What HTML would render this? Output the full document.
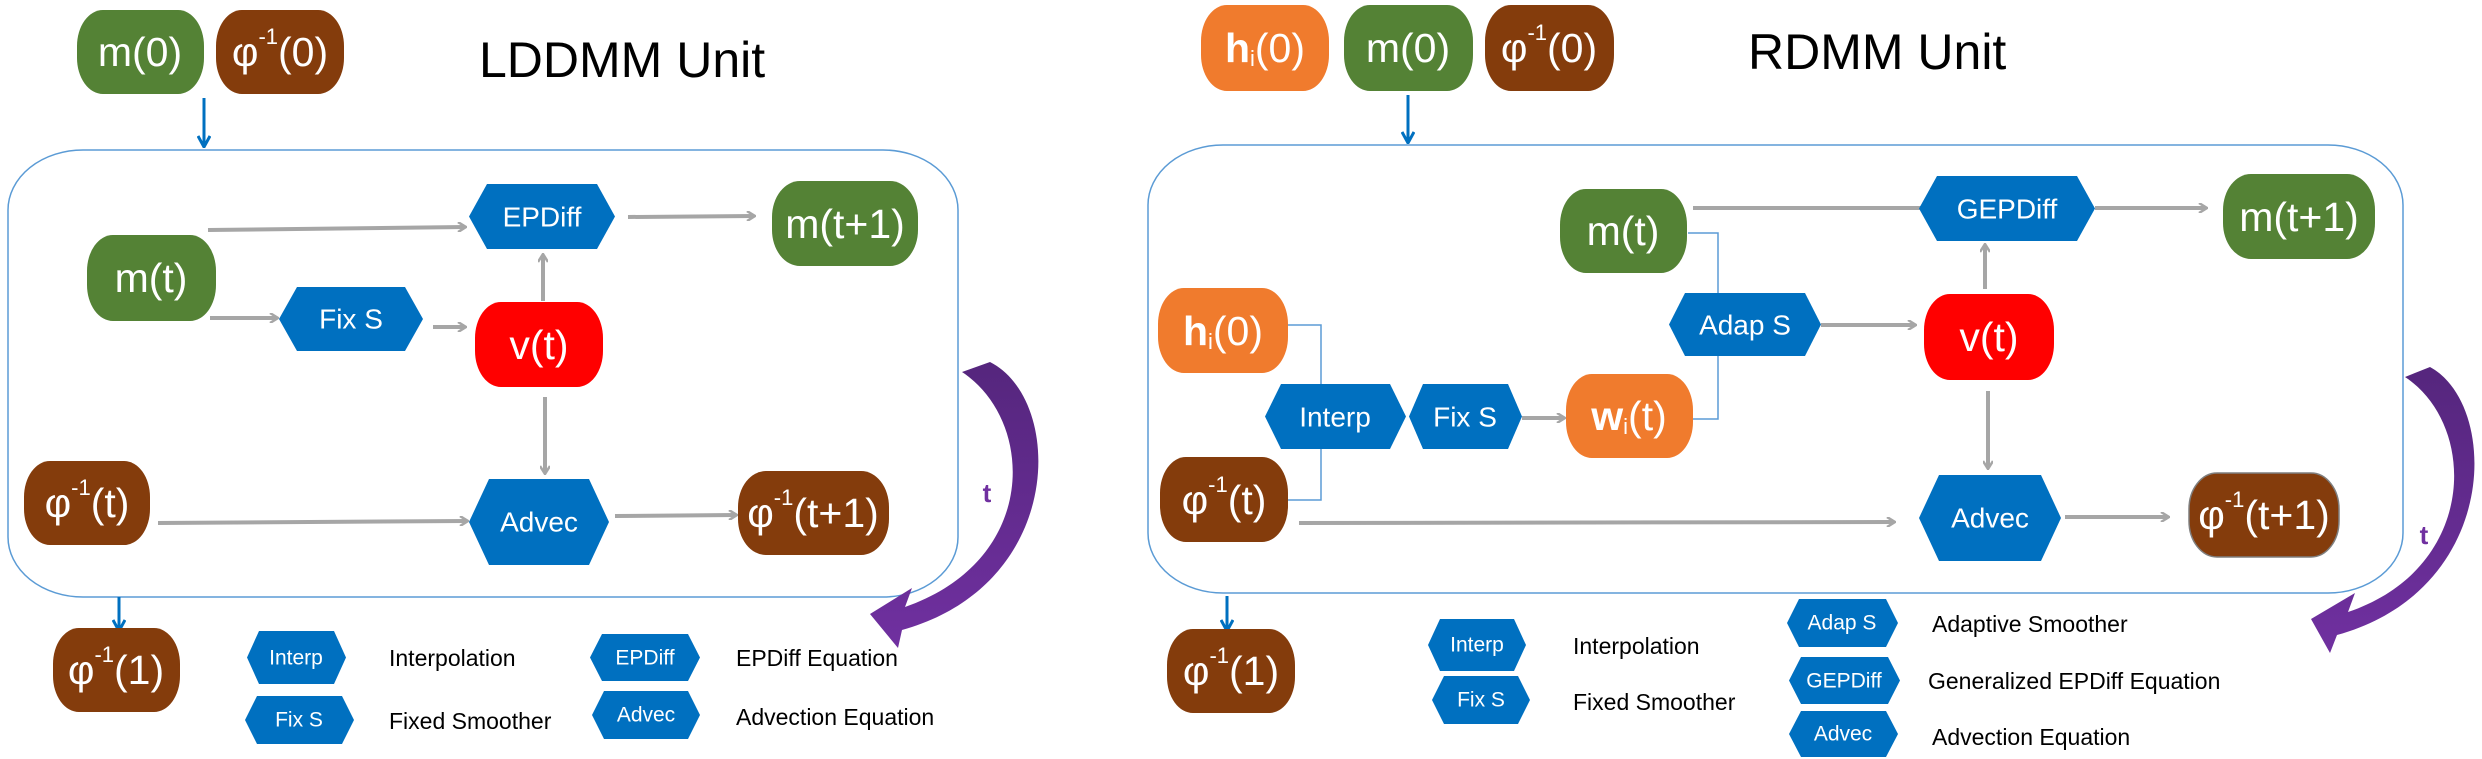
<!DOCTYPE html>
<html><head><meta charset="utf-8"><style>
html,body{margin:0;padding:0;background:#fff;}
svg{display:block;}
text{font-family:"Liberation Sans","DejaVu Sans",sans-serif;}
.n{fill:#fff;font-size:41px;text-anchor:middle;dominant-baseline:central;}
.h{fill:#fff;font-size:28px;text-anchor:middle;dominant-baseline:central;}
.hl{fill:#fff;font-size:21px;text-anchor:middle;dominant-baseline:central;}
.lg{fill:#000;font-size:23px;dominant-baseline:central;}
.g{stroke:#A6A6A6;stroke-width:4;fill:none;marker-end:url(#ga);}
.gn{stroke:#A6A6A6;stroke-width:4;fill:none;}
.b{stroke:#0070C0;stroke-width:3;fill:none;marker-end:url(#ba);}
.br{stroke:#5B9BD5;stroke-width:1.5;fill:none;}
</style></head><body>
<svg width="2482" height="759" viewBox="0 0 2482 759" xmlns="http://www.w3.org/2000/svg">
<defs>
<marker id="ga" markerWidth="10" markerHeight="10" refX="8" refY="5" orient="auto" markerUnits="userSpaceOnUse" viewBox="0 0 10 10"><path d="M1,0 L9,5 L1,10" stroke="#A6A6A6" stroke-width="2.5" fill="none"/></marker>
<marker id="ba" markerWidth="14" markerHeight="14" refX="12" refY="7" orient="auto" markerUnits="userSpaceOnUse" viewBox="0 0 14 14"><path d="M2,1 L13,7 L2,13" stroke="#0070C0" stroke-width="3" fill="none"/></marker>
<linearGradient id="pg" x1="0" y1="0" x2="0" y2="1"><stop offset="0" stop-color="#55267D"/><stop offset="1" stop-color="#7030A0"/></linearGradient>
</defs>

<!-- ============ LEFT: LDDMM ============ -->
<rect x="77" y="10" width="127" height="84" rx="26" ry="36" fill="#548235"/>
<text class="n" x="140" y="52">m(0)</text>
<rect x="216" y="10" width="128" height="84" rx="26" ry="36" fill="#843C0C"/>
<text class="n" x="280" y="52">φ<tspan font-size="22" dy="-16">-1</tspan><tspan dy="16">(0)</tspan></text>
<text x="479" y="60" font-size="50" fill="#000" dominant-baseline="central">LDDMM  Unit</text>
<line class="b" x1="204" y1="98" x2="204" y2="146"/>

<rect x="8" y="150" width="950" height="447" rx="75" ry="60" fill="none" stroke="#5B9BD5" stroke-width="1.5"/>

<line class="g" x1="208" y1="230" x2="465" y2="227"/>
<line class="g" x1="628" y1="217" x2="754" y2="216"/>
<line class="g" x1="210" y1="318" x2="277" y2="318"/>
<line class="g" x1="433" y1="327" x2="465" y2="327"/>
<line class="g" x1="543" y1="301" x2="543" y2="255"/>
<line class="g" x1="545" y1="397" x2="545" y2="473"/>
<line class="g" x1="158" y1="523" x2="467" y2="521"/>
<line class="g" x1="615" y1="516" x2="736" y2="515"/>

<polygon points="469,216.5 487,184 597,184 615,216.5 597,249 487,249" fill="#0070C0"/>
<text class="h" x="542" y="217">EPDiff</text>
<rect x="772" y="181" width="146" height="85" rx="28" ry="36" fill="#548235"/>
<text class="n" x="845" y="224">m(t+1)</text>
<rect x="87" y="235" width="129" height="86" rx="26" ry="36" fill="#548235"/>
<text class="n" x="151" y="278">m(t)</text>
<polygon points="279,319 297,287 405,287 423,319 405,351 297,351" fill="#0070C0"/>
<text class="h" x="351" y="319">Fix S</text>
<rect x="475" y="302" width="128" height="85" rx="26" ry="36" fill="#FF0000"/>
<text class="n" x="539" y="345">v(t)</text>
<rect x="24" y="461" width="126" height="84" rx="26" ry="36" fill="#843C0C"/>
<text class="n" x="87" y="503">φ<tspan font-size="22" dy="-16">-1</tspan><tspan dy="16">(t)</tspan></text>
<polygon points="469,522 489,479 589,479 609,522 589,565 489,565" fill="#0070C0"/>
<text class="h" x="539" y="522" font-size="32">Advec</text>
<rect x="738" y="471" width="151" height="84" rx="28" ry="36" fill="#843C0C"/>
<text class="n" x="813" y="513">φ<tspan font-size="22" dy="-16">-1</tspan><tspan dy="16">(t+1)</tspan></text>

<path d="M962,372 C1035,420 1040,560 905,607 L912,588 L870,614 L898,648 L902,630 C1065,585 1065,400 990,362 Z" fill="url(#pg)"/>
<text x="987" y="493" font-size="26" font-weight="bold" fill="#7030A0" text-anchor="middle" dominant-baseline="central">t</text>

<line class="b" x1="119" y1="597" x2="119" y2="630"/>
<rect x="53" y="628" width="127" height="84" rx="26" ry="36" fill="#843C0C"/>
<text class="n" x="116" y="670">φ<tspan font-size="22" dy="-16">-1</tspan><tspan dy="16">(1)</tspan></text>

<polygon points="247,657.5 259,631 334,631 346,657.5 334,684 259,684" fill="#0070C0"/>
<text class="hl" x="296" y="658">Interp</text>
<text class="lg" x="389" y="658">Interpolation</text>
<polygon points="245,720 257,696 342,696 354,720 342,744 257,744" fill="#0070C0"/>
<text class="hl" x="299" y="720" font-size="24">Fix S</text>
<text class="lg" x="389" y="721">Fixed Smoother</text>
<polygon points="590,657.5 602,634 688,634 700,657.5 688,681 602,681" fill="#0070C0"/>
<text class="hl" x="645" y="658">EPDiff</text>
<text class="lg" x="736" y="658">EPDiff Equation</text>
<polygon points="592,715 604,691 688,691 700,715 688,739 604,739" fill="#0070C0"/>
<text class="hl" x="646" y="715" font-size="24">Advec</text>
<text class="lg" x="736" y="717">Advection Equation</text>

<!-- ============ RIGHT: RDMM ============ -->
<rect x="1201" y="5" width="128" height="86" rx="26" ry="36" fill="#F07B2D"/>
<text class="n" x="1265" y="48"><tspan font-weight="bold">h</tspan><tspan font-size="22" dy="10">i</tspan><tspan dy="-10">(0)</tspan></text>
<rect x="1344" y="5" width="129" height="86" rx="26" ry="36" fill="#548235"/>
<text class="n" x="1408" y="48">m(0)</text>
<rect x="1485" y="5" width="129" height="86" rx="26" ry="36" fill="#843C0C"/>
<text class="n" x="1549" y="48">φ<tspan font-size="22" dy="-16">-1</tspan><tspan dy="16">(0)</tspan></text>
<text x="1748" y="52" font-size="50" fill="#000" dominant-baseline="central">RDMM  Unit</text>
<line class="b" x1="1408" y1="95" x2="1408" y2="142"/>

<rect x="1148" y="145" width="1255" height="448" rx="75" ry="60" fill="none" stroke="#5B9BD5" stroke-width="1.5"/>

<path class="br" d="M1288,325 L1321,325 L1321,500 L1288,500"/>
<path class="br" d="M1688,233 L1718,233 L1718,419 L1693,419"/>

<line class="gn" x1="1693" y1="208" x2="1921" y2="208"/>
<line class="g" x1="2095" y1="208" x2="2206" y2="208"/>
<line class="g" x1="1821" y1="325" x2="1915" y2="325"/>
<line class="g" x1="1985" y1="289" x2="1985" y2="245"/>
<line class="g" x1="1988" y1="391" x2="1988" y2="468"/>
<line class="g" x1="1299" y1="523" x2="1894" y2="522"/>
<line class="g" x1="2065" y1="517" x2="2168" y2="517"/>
<line class="g" x1="1522" y1="418" x2="1564" y2="418"/>

<rect x="1560" y="189" width="127" height="84" rx="26" ry="36" fill="#548235"/>
<text class="n" x="1623" y="231">m(t)</text>
<polygon points="1919,208.5 1937,176 2077,176 2095,208.5 2077,241 1937,241" fill="#0070C0"/>
<text class="h" x="2007" y="209">GEPDiff</text>
<rect x="2223" y="174" width="152" height="85" rx="28" ry="36" fill="#548235"/>
<text class="n" x="2299" y="217">m(t+1)</text>
<rect x="1158" y="288" width="130" height="85" rx="26" ry="36" fill="#F07B2D"/>
<text class="n" x="1223" y="331"><tspan font-weight="bold">h</tspan><tspan font-size="22" dy="10">i</tspan><tspan dy="-10">(0)</tspan></text>
<polygon points="1265,416.5 1281,384 1390,384 1406,416.5 1390,449 1281,449" fill="#0070C0"/>
<text class="h" x="1335" y="417">Interp</text>
<polygon points="1409,416.5 1423,384 1508,384 1522,416.5 1508,449 1423,449" fill="#0070C0"/>
<text class="h" x="1465" y="417">Fix S</text>
<rect x="1566" y="374" width="127" height="84" rx="26" ry="36" fill="#F07B2D"/>
<text class="n" x="1629" y="416"><tspan font-weight="bold">w</tspan><tspan font-size="22" dy="10">i</tspan><tspan dy="-10">(t)</tspan></text>
<polygon points="1669,324.5 1685,293 1805,293 1821,324.5 1805,356 1685,356" fill="#0070C0"/>
<text class="h" x="1745" y="325">Adap S</text>
<rect x="1924" y="294" width="130" height="86" rx="26" ry="36" fill="#FF0000"/>
<text class="n" x="1989" y="337">v(t)</text>
<rect x="1160" y="457" width="128" height="85" rx="26" ry="36" fill="#843C0C"/>
<text class="n" x="1224" y="500">φ<tspan font-size="22" dy="-16">-1</tspan><tspan dy="16">(t)</tspan></text>
<polygon points="1919,518 1939,475 2041,475 2061,518 2041,561 1939,561" fill="#0070C0"/>
<text class="h" x="1990" y="518" font-size="32">Advec</text>
<rect x="2189" y="473" width="150" height="84" rx="28" ry="36" fill="#843C0C" stroke="#7F7F7F" stroke-width="1.5"/>
<text class="n" x="2264" y="515">φ<tspan font-size="22" dy="-16">-1</tspan><tspan dy="16">(t+1)</tspan></text>

<path d="M2405,377 C2478,425 2478,568 2348,612 L2355,593 L2311,619 L2330,653 L2337,635 C2500,590 2500,405 2430,367 Z" fill="url(#pg)"/>
<text x="2424" y="535" font-size="26" font-weight="bold" fill="#7030A0" text-anchor="middle" dominant-baseline="central">t</text>

<line class="b" x1="1227" y1="596" x2="1227" y2="630"/>
<rect x="1167" y="629" width="128" height="84" rx="26" ry="36" fill="#843C0C"/>
<text class="n" x="1231" y="671">φ<tspan font-size="22" dy="-16">-1</tspan><tspan dy="16">(1)</tspan></text>

<polygon points="1428,645 1440,619 1514,619 1526,645 1514,671 1440,671" fill="#0070C0"/>
<text class="hl" x="1477" y="645">Interp</text>
<text class="lg" x="1573" y="646">Interpolation</text>
<polygon points="1432,700 1444,676 1518,676 1530,700 1518,724 1444,724" fill="#0070C0"/>
<text class="hl" x="1481" y="700">Fix S</text>
<text class="lg" x="1573" y="702">Fixed Smoother</text>
<polygon points="1787,623 1799,599 1886,599 1898,623 1886,647 1799,647" fill="#0070C0"/>
<text class="hl" x="1842" y="623">Adap S</text>
<text class="lg" x="1932" y="624">Adaptive Smoother</text>
<polygon points="1789,680.5 1801,657 1888,657 1900,680.5 1888,704 1801,704" fill="#0070C0"/>
<text class="hl" x="1844" y="681" font-size="19">GEPDiff</text>
<text class="lg" x="1928" y="681">Generalized EPDiff Equation</text>
<polygon points="1789,734 1801,711 1886,711 1898,734 1886,757 1801,757" fill="#0070C0"/>
<text class="hl" x="1843" y="734" font-size="24">Advec</text>
<text class="lg" x="1932" y="737">Advection Equation</text>
</svg>
</body></html>
